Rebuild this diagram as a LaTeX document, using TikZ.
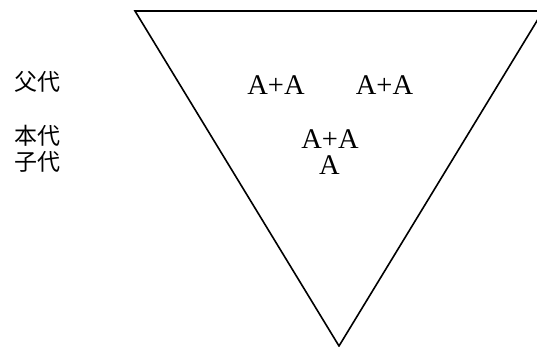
\documentclass[tikz,border=0pt]{standalone}
\usepackage{fontspec}
\setmainfont{Liberation Serif}
\newfontfamily\cjk{Noto Sans CJK SC}
\begin{document}
\begin{tikzpicture}[x=1pt,y=-1pt,
  gen/.style={font=\cjk\fontsize{23}{26}\selectfont, inner sep=0pt, anchor=center},
  allele/.style={font=\fontsize{28.5}{30}\selectfont, inner sep=0pt, anchor=base}]
\useasboundingbox (0,0) rectangle (537,347);
\clip (0,0) rectangle (537,347);
\coordinate (tl) at (135,11);
\coordinate (tr) at (543,11);
\coordinate (bt) at (339,346);
\draw[line width=1.6pt, line join=miter] (tl) -- (tr) -- (bt) -- cycle;
\node[gen] (p) at (37,82) {父代};
\node[gen] (s) at (37,136) {本代};
\node[gen] (c) at (37,162) {子代};
\node[allele] (a1) at (276,95) {A+A};
\node[allele] (a2) at (384.5,95) {A+A};
\node[allele] (a3) at (330,149) {A+A};
\node[allele] (a4) at (329.5,175) {A};
\end{tikzpicture}
\end{document}
